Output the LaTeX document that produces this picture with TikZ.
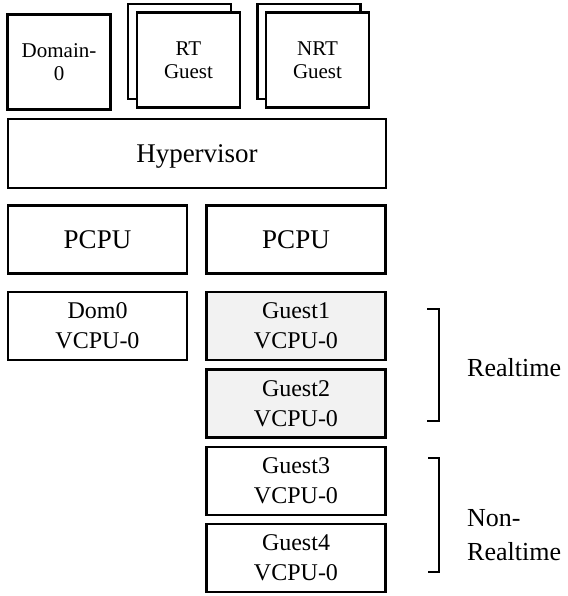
\documentclass[tikz,border=0pt]{standalone}
\usepackage{fontspec}
\setmainfont{Liberation Serif}
\newcommand{\topsize}{\fontsize{21}{23}\selectfont}
\newcommand{\bigsize}{\fontsize{27}{30}\selectfont}
\newcommand{\vcpusize}{\fontsize{24}{30}\selectfont}
\newcommand{\sidesize}{\fontsize{26}{34}\selectfont}
\begin{document}
\begin{tikzpicture}[x=1pt,y=-1pt]
\tikzstyle{every node}+=[inner sep=0pt]
\tikzstyle{box}=[draw=black, fill=white, line width=2.7pt, align=center]
\tikzstyle{dombox}=[box, minimum width=103pt, minimum height=95pt, font=\topsize]
\tikzstyle{cpubox}=[box, minimum width=179pt, minimum height=68pt]
\tikzstyle{rtbox}=[cpubox, fill=black!5]
\tikzstyle{brace}=[draw=black, line width=2.4pt]
\useasboundingbox (0,0) rectangle (567,596);
% domains on top of the hypervisor
\node [dombox] (dom) at (59,62) {Domain-\\0};
\node [dombox] (rtback) at (179.5,51.5) {};
\node [dombox] (rt) at (188.5,60) {RT\\Guest};
\node [dombox] (nrtback) at (309,51.5) {};
\node [dombox] (nrt) at (317.5,60) {NRT\\Guest};
\node [box, minimum width=378pt, minimum height=69pt, text depth=0pt, font=\bigsize] (hyp) at (197,153.5) {Hypervisor};
% physical cpus
\node [cpubox, font=\bigsize] (pcpua) at (97.5,239.5) {PCPU};
\node [cpubox, font=\bigsize] (pcpub) at (296,239.5) {PCPU};
% virtual cpus
\node [cpubox, font=\vcpusize] (dom0) at (97.5,326) {Dom0\\VCPU-0};
\node [rtbox, font=\vcpusize] (g1) at (296,326) {Guest1\\VCPU-0};
\node [rtbox, font=\vcpusize] (g2) at (296,403.5) {Guest2\\VCPU-0};
\node [cpubox, font=\vcpusize] (g3) at (296,481) {Guest3\\VCPU-0};
\node [cpubox, font=\vcpusize] (g4) at (296,558) {Guest4\\VCPU-0};
% brackets
\draw [brace] (427,309) -- (439,309) -- (439,421) -- (427,421);
\draw [brace] (428,458) -- (439,458) -- (439,572) -- (428,572);
\node [anchor=west, font=\sidesize] (rtlabel) at (467,368) {Realtime};
\node [anchor=west, align=left, font=\sidesize] (nrtlabel) at (467,535) {Non-\\Realtime};
\end{tikzpicture}
\end{document}
